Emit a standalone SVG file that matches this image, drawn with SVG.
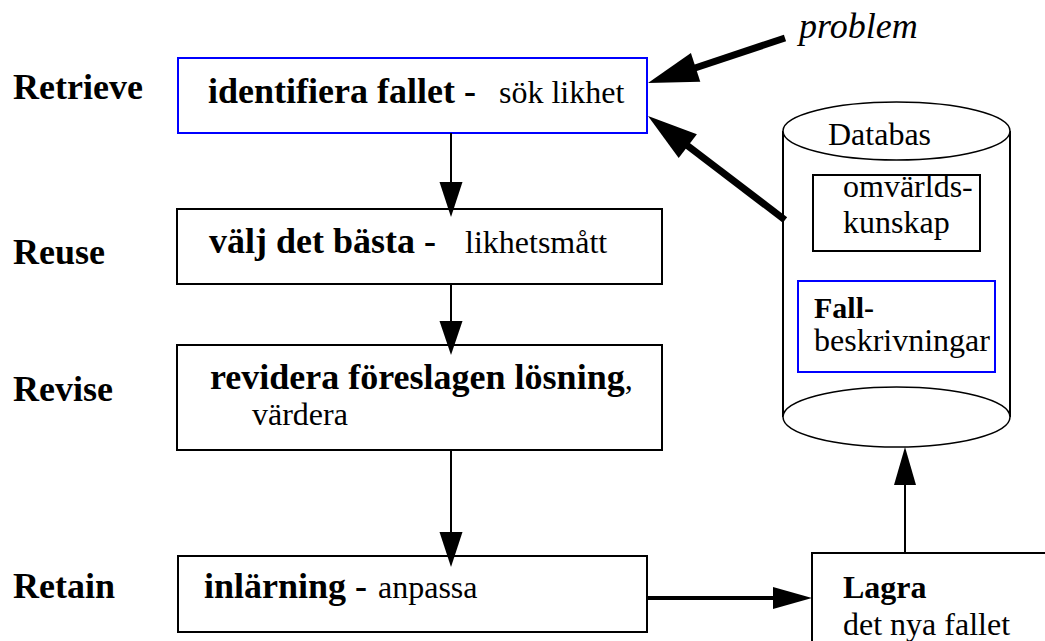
<svg xmlns="http://www.w3.org/2000/svg" width="1045" height="641" viewBox="0 0 1045 641" font-family="'Liberation Serif', 'DejaVu Serif', 'Times New Roman', serif">
<style>
  text, tspan { font-family: "Liberation Serif", "DejaVu Serif", "Times New Roman", serif; fill: #000; }
  .b { font-weight: bold; font-size: 36px; }
  .r { font-size: 32px; }
  .it { font-style: italic; font-size: 36px; }
  .box { fill: #fff; stroke: #000; stroke-width: 2; }
  .blue { fill: #fff; stroke: #0000ff; stroke-width: 2; }
  .ln { stroke: #000; stroke-width: 2; fill: none; }
  .thick { stroke: #000; stroke-width: 7; fill: none; }
  .head { fill: #000; stroke: none; }
</style>
<rect width="1045" height="641" fill="#fff"/>

<g id="labels">
  <text class="b" x="13" y="99">Retrieve</text>
  <text class="b" x="13" y="264">Reuse</text>
  <text class="b" x="13" y="401">Revise</text>
  <text class="b" x="13" y="598">Retain</text>
</g>

<g id="node-problem">
  <text class="it" x="799" y="38">problem</text>
</g>

<g id="node-identifiera">
  <rect class="blue" x="178" y="58" width="469" height="75"/>
  <text x="208" y="103"><tspan class="b">identifiera fallet -</tspan><tspan class="r" x="499">sök likhet</tspan></text>
</g>

<g id="node-valj">
  <rect class="box" x="177" y="209" width="485" height="75"/>
  <text x="209" y="253"><tspan class="b">välj det bästa -</tspan><tspan class="r" x="465">likhetsmått</tspan></text>
</g>

<g id="node-revidera">
  <rect class="box" x="177" y="345" width="485" height="105"/>
  <text x="210" y="389"><tspan class="b">revidera föreslagen lösning</tspan><tspan class="r">,</tspan></text>
  <text class="r" x="252" y="425">värdera</text>
</g>

<g id="node-inlarning">
  <rect class="box" x="178" y="556" width="469" height="76"/>
  <text x="204" y="598"><tspan class="b">inlärning -</tspan><tspan class="r" x="378">anpassa</tspan></text>
</g>

<g id="node-lagra">
  <rect class="box" x="812" y="553" width="300" height="150"/>
  <text class="b" x="843" y="598" style="font-size:32px">Lagra</text>
  <text class="r" x="843" y="635">det nya fallet</text>
</g>

<g id="node-databas">
  <path d="M783,131 L783,417 M1010,131 L1010,417" stroke="#000" stroke-width="2" fill="none"/>
  <rect x="784" y="131" width="225" height="286" fill="#fff"/>
  <ellipse cx="896.5" cy="417" rx="113.5" ry="30" fill="#fff" stroke="#000" stroke-width="1.5"/>
  <ellipse cx="896.5" cy="131" rx="113.5" ry="29" fill="#fff" stroke="#000" stroke-width="1.5"/>
  <text class="r" x="828" y="145">Databas</text>
  <g id="node-omvarld">
    <rect class="box" x="813" y="175" width="167" height="76"/>
    <text class="r" x="843" y="197">omvärlds-</text>
    <text class="r" x="843" y="233">kunskap</text>
  </g>
  <g id="node-fall">
    <rect class="blue" x="798" y="281" width="197" height="91"/>
    <text class="b" x="814" y="318" style="font-size:30px">Fall-</text>
    <text class="r" x="814" y="351">beskrivningar</text>
  </g>
</g>

<g id="connectors">
  <line class="thick" x1="785" y1="38" x2="692" y2="69"/>
  <polygon class="head" points="648,83 690.9,53.1 700.3,81.7"/>
  <line class="thick" x1="785" y1="220" x2="684" y2="143"/>
  <polygon class="head" points="648,116 696.9,134.3 678.7,158.1"/>
  <line class="ln" x1="451" y1="133" x2="451" y2="185"/>
  <polygon class="head" points="451,217 439.5,182 462.5,182"/>
  <line class="ln" x1="451" y1="284" x2="451" y2="324"/>
  <polygon class="head" points="451,355 439.5,321 462.5,321"/>
  <line class="ln" x1="451" y1="450" x2="451" y2="535"/>
  <polygon class="head" points="451,567 439.5,532 462.5,532"/>
  <line x1="647" y1="598" x2="776" y2="598" stroke="#000" stroke-width="4"/>
  <polygon class="head" points="812,598 773,587 773,609"/>
  <line class="ln" x1="905" y1="553" x2="905" y2="482"/>
  <polygon class="head" points="905,447 894,485 916,485"/>
</g>
</svg>
